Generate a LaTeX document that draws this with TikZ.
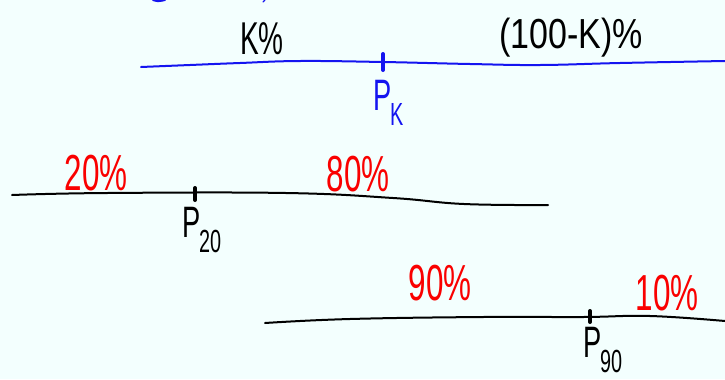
\documentclass[tikz,border=0pt]{standalone}
\usepackage{graphicx}
\usepackage{fontspec}
\setmainfont{Liberation Sans}
\usetikzlibrary{positioning}

\definecolor{paper}{RGB}{243,255,254}
\definecolor{penblue}{RGB}{20,20,240}
\definecolor{penred}{RGB}{250,0,0}
\newcommand{\narrow}[1]{\scalebox{0.62}[1]{#1}}
\newcommand{\pctile}[1]{\narrow{P}\kern-1pt\raisebox{-0.33em}{\fontsize{24}{24}\selectfont\narrow{#1}}}

\begin{document}
\begin{tikzpicture}[x=0.75pt, y=-0.75pt,
    every node/.style={inner sep=0pt},
    pen/.style={line width=1.5pt, line cap=round, line join=round},
    tickmark/.style={line width=3pt, line cap=round},
    share/.style={font=\fontsize{38}{38}\selectfont, text=penred},
    toplabel/.style={font=\fontsize{30}{30}\selectfont},
    pname/.style={font=\fontsize{33}{33}\selectfont, anchor=north west}]
  \fill[paper] (0,0) rectangle (725,379);
  \useasboundingbox (0,0) rectangle (725,379);

  % cut-off strokes at the top edge
  \draw[penblue, line width=1.5pt, line cap=round] (153,0) .. controls (158,1.5) .. (165,0);
  \draw[penblue, line width=1pt, line cap=round] (263,2) -- (265,0);

  % k-th percentile
  \draw[pen, penblue] plot[smooth, tension=0.7] coordinates {(141,67) (190,65) (240,63) (300,61) (383,62) (470,64) (540,65) (620,63) (725,61)};
  \coordinate (tkK) at (383,54);
  \draw[tickmark, penblue] (tkK) -- ++(0,16);
  \node[pname, text=penblue] (pK) at (373,80) {\pctile{K}};
  \node[toplabel] (lowK) at (262,39) {\scalebox{0.7}[1.15]{K\%}};
  \node[toplabel] (highK) at (571,38) {\scalebox{0.85}[1.05]{(100-K)\%}};

  % 20th percentile
  \draw[pen] plot[smooth, tension=0.7] coordinates {(12,195) (107,193) (286,193) (393,198) (464,204) (548,205)};
  \coordinate (tk20) at (195,188);
  \draw[tickmark] (tk20) -- ++(0,12);
  \node[pname] (p20) at (182,207) {\pctile{20}};
  \node[share] (low20) at (96,173) {\narrow{20\%}};
  \node[share] (high20) at (358,174) {\narrow{80\%}};

  % 90th percentile
  \draw[pen] plot[smooth, tension=0.7] coordinates {(265,323) (350,319) (483,317) (583,317) (650,316) (725,321)};
  \coordinate (tk90) at (590,311);
  \draw[tickmark] (tk90) -- ++(0,11);
  \node[pname] (p90) at (583,327) {\pctile{90}};
  \node[share] (low90) at (440,283) {\narrow{90\%}};
  \node[share] (high90) at (667,293) {\narrow{10\%}};
\end{tikzpicture}
\end{document}
